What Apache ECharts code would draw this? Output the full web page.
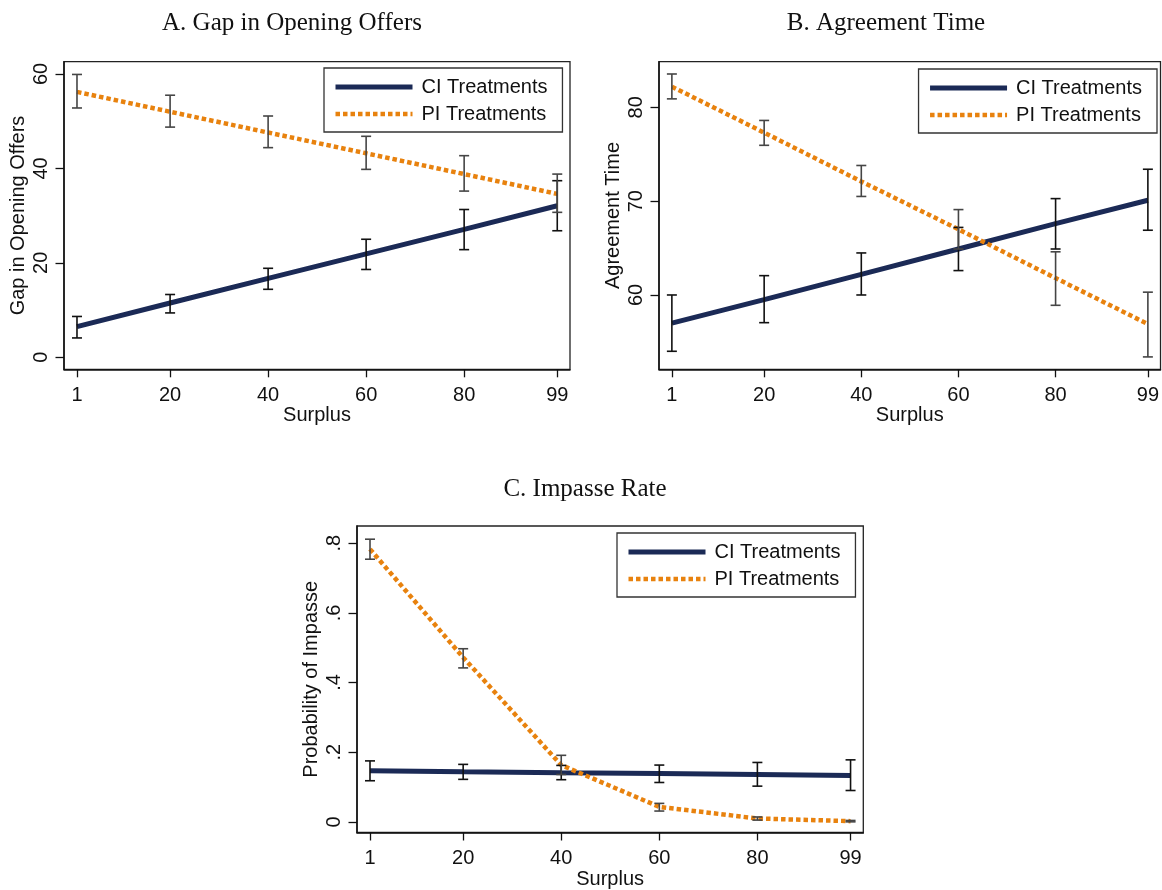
<!DOCTYPE html>
<html>
<head>
<meta charset="utf-8">
<script src="https://cdn.jsdelivr.net/npm/echarts@6/dist/echarts.min.js"></script>
<style>
  html, body { margin: 0; padding: 0; background: #fff; }
  #chart { width: 1162px; height: 890px; }
</style>
</head>
<body>
<div id="chart"></div>
<script>
// Surplus levels shared by all three panels
const surplus = [1, 20, 40, 60, 80, 99];
const xTickValues = [1, 20, 40, 60, 80, 99];

// A. Gap in opening offers
const gapCI      = [6.5, 11.5, 16.7, 21.9, 27.1, 32.1];
const gapCILow   = [4.1, 9.4, 14.4, 18.6, 22.8, 26.8];
const gapCIHigh  = [8.65, 13.3, 18.85, 25.0, 31.3, 37.4];
const gapPI      = [56.2, 52.0, 47.6, 43.2, 38.8, 34.6];
const gapPILow   = [52.8, 48.75, 44.4, 39.8, 35.2, 30.7];
const gapPIHigh  = [59.9, 55.5, 51.1, 46.8, 42.7, 38.8];
const gapTicks   = [0, 20, 40, 60];

// B. Agreement time
const timeCI     = [57.0, 59.5, 62.2, 64.9, 67.6, 70.1];
const timeCILow  = [54.0, 57.05, 60.0, 62.6, 64.9, 66.9];
const timeCIHigh = [60.0, 62.06, 64.48, 67.2, 70.27, 73.4];
const timePI     = [82.2, 77.3, 72.1, 67.0, 61.8, 56.9];
const timePILow  = [80.9, 75.95, 70.5, 64.9, 58.9, 53.4];
const timePIHigh = [83.55, 78.6, 73.8, 69.1, 64.6, 60.3];
const timeTicks  = [60, 70, 80];

// C. Impasse rate
const impCI      = [0.147, 0.144, 0.141, 0.139, 0.136, 0.133];
const impCILow   = [0.118, 0.122, 0.121, 0.113, 0.1025, 0.090];
const impCIHigh  = [0.175, 0.165, 0.162, 0.163, 0.1705, 0.178];
const impPI      = [0.783, 0.472, 0.163, 0.043, 0.0096, 0.002];
const impPILow   = [0.754, 0.442, 0.136, 0.031, 0.005, 0.0];
const impPIHigh  = [0.8115, 0.497, 0.191, 0.053, 0.014, 0.004];
const impTicks   = [0, 0.2, 0.4, 0.6, 0.8];

const NAVY = '#1b2a56';
const ORANGE = '#e8820e';
const SANS = "'Liberation Sans', Arial, sans-serif";
const SERIF = "'Liberation Serif', 'Times New Roman', serif";

const pairs = (xs, ys) => xs.map((x, i) => [x, ys[i]]);

function ciLine(idx, ys) {
  return {
    type: 'line', name: 'CI Treatments', xAxisIndex: idx, yAxisIndex: idx,
    data: pairs(surplus, ys), symbol: 'none', silent: true, z: 3,
    lineStyle: { color: NAVY, width: 5, cap: 'butt' },
    itemStyle: { color: NAVY }
  };
}
function piLine(idx, ys) {
  return {
    type: 'line', name: 'PI Treatments', xAxisIndex: idx, yAxisIndex: idx,
    data: pairs(surplus, ys), symbol: 'none', silent: true, z: 4,
    lineStyle: { color: ORANGE, width: 4.5, type: [4.5, 3], cap: 'butt' },
    itemStyle: { color: ORANGE }
  };
}
// vertical interval with short caps at both ends
function capBars(idx, lo, hi, color) {
  return {
    type: 'custom', xAxisIndex: idx, yAxisIndex: idx, silent: true, z: 5,
    data: surplus.map((x, i) => [x, lo[i], hi[i]]),
    encode: { x: 0, y: [1, 2] },
    renderItem(params, api) {
      const x = api.value(0);
      const a = api.coord([x, api.value(1)]);
      const b = api.coord([x, api.value(2)]);
      const hw = 5;
      const style = { stroke: color, lineWidth: 1.6, fill: null };
      return {
        type: 'group',
        children: [
          { type: 'line', shape: { x1: a[0], y1: a[1], x2: b[0], y2: b[1] }, style },
          { type: 'line', shape: { x1: a[0] - hw, y1: a[1], x2: a[0] + hw, y2: a[1] }, style },
          { type: 'line', shape: { x1: b[0] - hw, y1: b[1], x2: b[0] + hw, y2: b[1] }, style }
        ]
      };
    }
  };
}

const axisLine = { show: true, onZero: false, lineStyle: { color: '#111', width: 1.5 } };
const axisTickX = { show: true, length: 8, customValues: xTickValues, lineStyle: { color: '#111', width: 1.3 } };

function xAxis(idx) {
  return {
    type: 'value', gridIndex: idx, min: -1.65, max: 101.6,
    name: 'Surplus', nameLocation: 'middle', nameGap: 36.5, nameMoveOverlap: false,
    nameTextStyle: { fontFamily: SANS, fontSize: 20, color: '#111' },
    axisLine, axisTick: axisTickX,
    axisLabel: { customValues: xTickValues, margin: 16, fontFamily: SANS, fontSize: 20, color: '#111' },
    splitLine: { show: false }
  };
}
function yAxis(idx, name, min, max, ticks, fmt) {
  return {
    type: 'value', gridIndex: idx, min, max,
    name, nameLocation: 'middle', nameGap: 35.5, nameMoveOverlap: false,
    nameTextStyle: { fontFamily: SANS, fontSize: 20, color: '#111' },
    axisLine,
    axisTick: { show: true, length: 8.5, customValues: ticks, lineStyle: { color: '#111', width: 1.3 } },
    axisLabel: { customValues: ticks, rotate: 90, margin: 13, fontFamily: SANS, fontSize: 20, color: '#111', formatter: fmt },
    splitLine: { show: false }
  };
}
const probFmt = v => (v === 0 ? '0' : String(+v.toFixed(1)).replace(/^0/, ''));

const legendBase = {
  orient: 'vertical', itemWidth: 77, itemHeight: 6, itemGap: 7,
  padding: [9, 15, 8, 9], borderColor: '#333', borderWidth: 1.3,
  backgroundColor: '#fff', selectedMode: false,
  lineStyle: { width: 'inherit', type: 'inherit' },
  itemStyle: { opacity: 0, borderWidth: 0 },
  textStyle: { fontFamily: SANS, fontSize: 20, color: '#111', lineHeight: 20, padding: [0, 0, 0, 4] },
  data: ['CI Treatments', 'PI Treatments']
};

const titleStyle = { fontFamily: SERIF, fontSize: 25, fontWeight: 'normal', color: '#111' };

const option = {
  animation: false,
  backgroundColor: '#fff',
  title: [
    { text: 'A. Gap in Opening Offers', left: 287, top: 6, textAlign: 'center', textStyle: titleStyle },
    { text: 'B. Agreement Time', left: 881, top: 6, textAlign: 'center', textStyle: titleStyle },
    { text: 'C. Impasse Rate', left: 580, top: 472, textAlign: 'center', textStyle: titleStyle }
  ],
  legend: [
    Object.assign({}, legendBase, { left: 324, top: 68 }),
    Object.assign({}, legendBase, { right: 5, top: 69 }),
    Object.assign({}, legendBase, { left: 617, top: 533 })
  ],
  grid: [
    { left: 64, top: 61.7, width: 506, height: 307.6, show: true, borderColor: '#222', borderWidth: 1.3, backgroundColor: 'transparent' },
    { left: 659, top: 61.7, width: 506, height: 307.6, show: true, borderColor: '#222', borderWidth: 1.3, backgroundColor: 'transparent' },
    { left: 357, top: 526, width: 506.3, height: 308, show: true, borderColor: '#222', borderWidth: 1.3, backgroundColor: 'transparent' }
  ],
  xAxis: [xAxis(0), xAxis(1), xAxis(2)],
  yAxis: [
    yAxis(0, 'Gap in Opening Offers', -2.54, 62.6, gapTicks),
    yAxis(1, 'Agreement Time', 52.08, 84.86, timeTicks),
    yAxis(2, 'Probability of Impasse', -0.0306, 0.8494, impTicks, probFmt)
  ],
  series: [
    ciLine(0, gapCI), piLine(0, gapPI),
    capBars(0, gapCILow, gapCIHigh, '#111'), capBars(0, gapPILow, gapPIHigh, '#454545'),
    ciLine(1, timeCI), piLine(1, timePI),
    capBars(1, timeCILow, timeCIHigh, '#111'), capBars(1, timePILow, timePIHigh, '#454545'),
    ciLine(2, impCI), piLine(2, impPI),
    capBars(2, impCILow, impCIHigh, '#111'), capBars(2, impPILow, impPIHigh, '#454545')
  ]
};

const chart = echarts.init(document.getElementById('chart'), null, { renderer: 'canvas' });
chart.setOption(option);
</script>
</body>
</html>
